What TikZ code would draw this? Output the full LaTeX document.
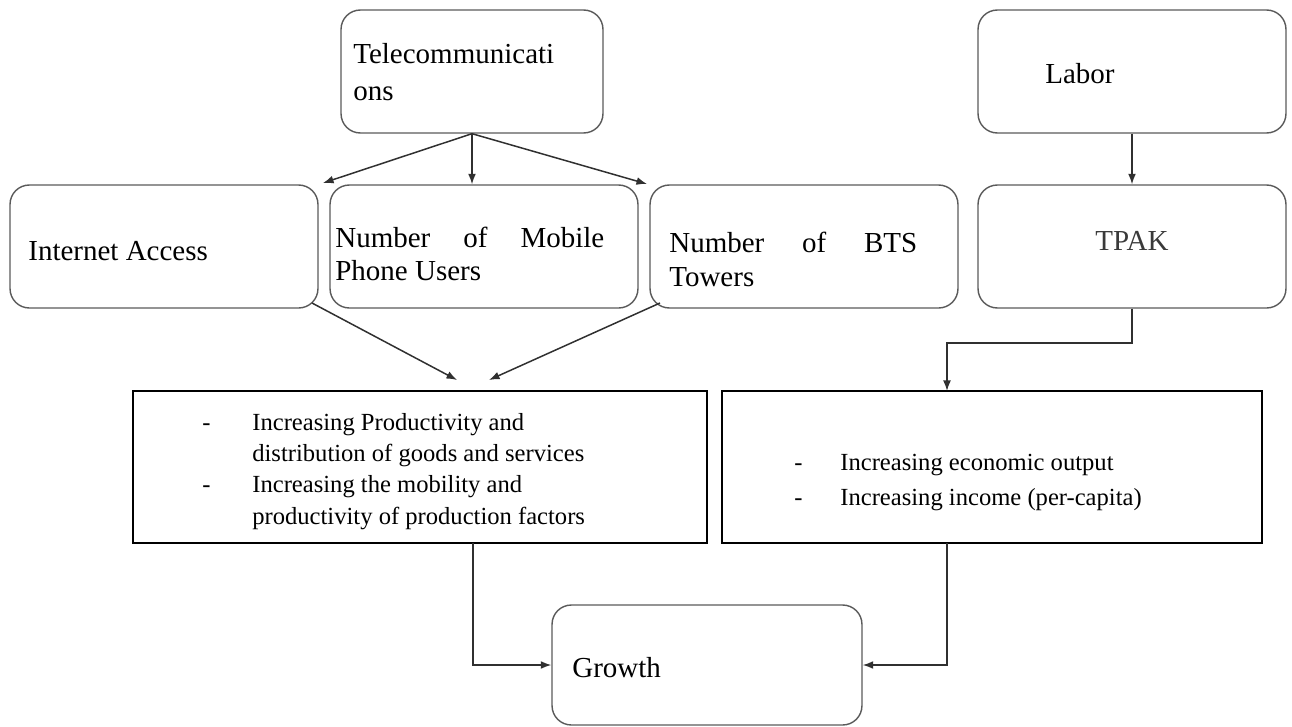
\documentclass[tikz,border=0pt]{standalone}
\usepackage{fontspec}
\setmainfont{Liberation Serif}
\newfontfamily\lblserif{Liberation Serif}
\usetikzlibrary{arrows.meta}
\definecolor{boxgray}{HTML}{5A5A5A}
\definecolor{linegray}{HTML}{303030}
\definecolor{tpakgray}{HTML}{3A3A3A}
\begin{document}
\begin{tikzpicture}[x=0.02cm,y=-0.02cm,
  rbox/.style={draw=boxgray, line width=0.8pt, rounded corners=11pt, inner sep=0pt, minimum height=2.46cm, minimum width=6.16cm},
  rect/.style={draw=black, line width=1.4pt, inner sep=0pt, minimum height=3.04cm},
  lbl/.style={anchor=base west, inner sep=0pt, font=\lblserif\fontsize{16.5}{20}\selectfont},
  itm/.style={anchor=base west, inner sep=0pt, font=\lblserif\fontsize{14}{17}\selectfont},
  conn/.style={draw=linegray, line width=0.85pt},
  arr/.style={conn, -{Latex[length=6pt,width=4.5pt]}}]
\useasboundingbox (0,0) rectangle (1292,727);

% boxes
\node[rbox, minimum width=5.24cm] (tele) at (472,71.5) {};
\node[rbox] (labor) at (1132,71.5) {};
\node[rbox] (inet) at (164,246.5) {};
\node[rbox] (mob) at (484,246.5) {};
\node[rbox] (bts) at (804,246.5) {};
\node[rbox] (tpak) at (1132,246.5) {};
\node[rect, minimum width=11.48cm] (lrect) at (420,467) {};
\node[rect, minimum width=10.8cm] (rrect) at (992,467) {};
\node[rbox, minimum width=6.2cm, minimum height=2.4cm] (growth) at (707,665) {};

% labels
\node[lbl] (t1) at (353,63) {Telecommunicati};
\node[lbl] (t2) at (353,100) {ons};
\node[lbl] (lab) at (1045,83) {Labor};
\node[lbl] (ia) at (28,260) {Internet Access};
\node[lbl] (m1) at (335,247) {\makebox[5.38cm][s]{Number\hfill of\hfill Mobile}};
\node[lbl] (m2) at (335,280) {Phone Users};
\node[lbl] (b1) at (669,252) {\makebox[4.96cm][s]{Number\hfill of\hfill BTS}};
\node[lbl] (b2) at (669,286) {Towers};
\node[anchor=base, inner sep=0pt, text=tpakgray, font=\lblserif\fontsize{16.5}{20}\selectfont] (tp) at (1132,250) {TPAK};
\node[lbl] (gr) at (572,677) {Growth};

% left rectangle items
\node[itm] (d1) at (202,430) {-};
\node[itm] (l1) at (252,430) {Increasing Productivity and};
\node[itm] (l2) at (252,461) {distribution of goods and services};
\node[itm] (d2) at (202,492) {-};
\node[itm] (l3) at (252,492) {Increasing the mobility and};
\node[itm] (l4) at (252,524) {productivity of production factors};

% right rectangle items
\node[itm] (d3) at (794,470) {-};
\node[itm] (r1) at (840,470) {Increasing economic output};
\node[itm] (d4) at (794,505) {-};
\node[itm] (r2) at (840,505) {Increasing income (per-capita)};

% free ends
\coordinate (tl) at (323,183);
\coordinate (tr) at (647,184);
\coordinate (iaout) at (312,303);
\coordinate (btsout) at (660,303);
\coordinate (la) at (457,380);
\coordinate (lb) at (489,380);
\coordinate (bend) at (1132,343);
\coordinate (rin) at (947,391);
\coordinate (lo) at (473,543);
\coordinate (ro) at (947,543);

% connectors
\draw[arr] (tele.south) -- (tl);
\draw[arr] (tele.south) -- (tele.south |- mob.north);
\draw[arr] (tele.south) -- (tr);
\draw[arr] (labor.south) -- (tpak.north);
\draw[arr] (iaout) -- (la);
\draw[arr] (btsout) -- (lb);
\draw[arr] (tpak.south) -- (bend) -| (rin);
\draw[arr] (lo) |- (growth.west);
\draw[arr] (ro) |- (growth.east);
\end{tikzpicture}
\end{document}
